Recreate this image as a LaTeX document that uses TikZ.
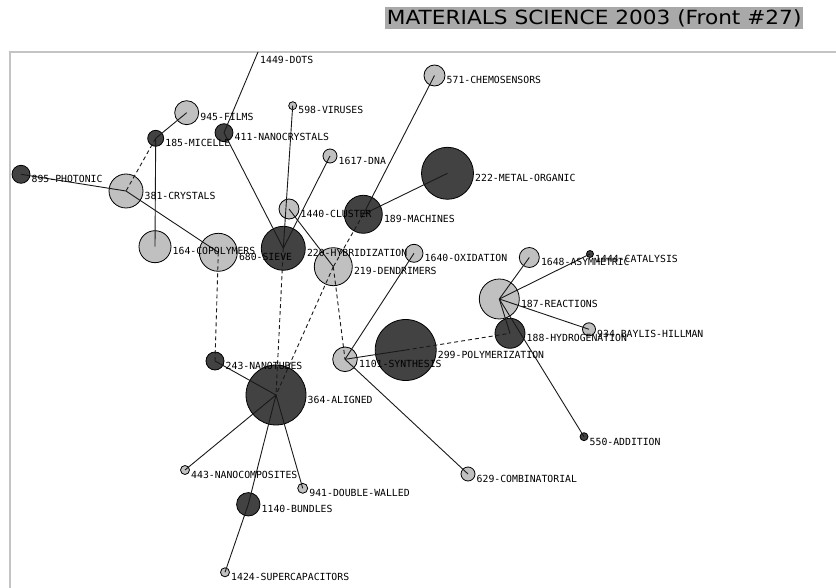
\documentclass[tikz,border=0pt]{standalone}
\usepackage{fontspec}
\newfontfamily\lblfont{DejaVu Sans Mono}
\newfontfamily\titlefont{DejaVu Sans}
\definecolor{lightn}{HTML}{C0C0C0}
\definecolor{darkn}{HTML}{424242}
\definecolor{framegray}{HTML}{C4C4C4}
\definecolor{titlegray}{HTML}{A9A9A9}
\pgfdeclarelayer{edgel}
\pgfdeclarelayer{lbll}
\pgfsetlayers{main,edgel,lbll}
\tikzset{
  gcirc/.style={circle,draw=black,line width=0.8pt,inner sep=0pt,outer sep=0pt},
  lt/.style={fill=lightn},
  dk/.style={fill=darkn},
  lbl/.style={font=\lblfont\fontsize{9.8}{10}\selectfont,anchor=base west,inner sep=0pt},
  edge/.style={draw=black!90,line width=0.9pt},
  dedge/.style={edge,dash pattern=on 4pt off 3pt}
}
\newcommand\gnode[6]{%
  \node[gcirc,#5,minimum size={2*#4}] (#1) at (#2,#3) {};
  \begin{pgfonlayer}{lbll}
    \node[lbl] (#1l) at ({#2+#4+1.5},{#3+8.3}) {#6};
  \end{pgfonlayer}
}
\begin{document}
\begin{tikzpicture}[x=1pt,y=-1pt]
\useasboundingbox (0,0) rectangle (836,588);
% frame
\draw[framegray,line width=2pt] (10,590) -- (10,52) -- (838,52);
% title
\node[fill=titlegray,inner sep=0pt,minimum width=418,minimum height=22,anchor=north west] (titlebox) at (385,7) {};
\node[inner sep=0pt] (title) at (titlebox.center) {\titlefont\fontsize{19.5}{19.5}\selectfont\scalebox{1.11}[1]{MATERIALS SCIENCE 2003 (Front \#27)}};
% nodes
\coordinate (n1449) at (258,52);
\begin{pgfonlayer}{lbll}
\node[lbl] (n1449l) at (260,63.5) {1449-DOTS};
\end{pgfonlayer}
\gnode{n945}{186.7}{112.7}{12}{lt}{945-FILMS}
\gnode{n185}{155.7}{138.3}{8}{dk}{185-MICELLE}
\gnode{n895}{21}{174.3}{9}{dk}{895-PHOTONIC}
\gnode{n381}{126}{191}{17}{lt}{381-CRYSTALS}
\gnode{n411}{224}{132.7}{9}{dk}{411-NANOCRYSTALS}
\gnode{n598}{292.7}{105.7}{4}{lt}{598-VIRUSES}
\gnode{n1617}{330}{156}{7}{lt}{1617-DNA}
\gnode{n571}{434.5}{75.5}{10.5}{lt}{571-CHEMOSENSORS}
\gnode{n222}{447.5}{173.3}{26}{dk}{222-METAL-ORGANIC}
\gnode{n1440}{289}{209}{10}{lt}{1440-CLUSTER}
\gnode{n189}{363.3}{214.3}{19}{dk}{189-MACHINES}
\gnode{n164}{155}{246.7}{16}{lt}{164-COPOLYMERS}
\gnode{n680}{218.3}{252.3}{19}{lt}{680-SIEVE}
\gnode{n220}{283.3}{248.3}{22}{dk}{220-HYBRIDIZATION}
\gnode{n219}{333.3}{266.7}{19}{lt}{219-DENDRIMERS}
\gnode{n1640}{414}{253.3}{9}{lt}{1640-OXIDATION}
\gnode{n1648}{529.3}{257.5}{10}{lt}{1648-ASYMMETRIC}
\gnode{n1444}{590}{254}{3.5}{dk}{1444-CATALYSIS}
\gnode{n187}{499.3}{299}{20}{lt}{187-REACTIONS}
\gnode{n188}{510}{333.3}{15}{dk}{188-HYDROGENATION}
\gnode{n934}{589}{329.3}{6.5}{lt}{934-BAYLIS-HILLMAN}
\gnode{n299}{405.7}{350}{30.5}{dk}{299-POLYMERIZATION}
\gnode{n1101}{345}{359.3}{12.3}{lt}{1101-SYNTHESIS}
\gnode{n243}{215}{361}{9}{dk}{243-NANOTUBES}
\gnode{n364}{276}{395}{30}{dk}{364-ALIGNED}
\gnode{n550}{584}{436.7}{4}{dk}{550-ADDITION}
\gnode{n629}{468}{474}{7}{lt}{629-COMBINATORIAL}
\gnode{n443}{185}{470}{4.5}{lt}{443-NANOCOMPOSITES}
\gnode{n941}{302.7}{488.3}{5}{lt}{941-DOUBLE-WALLED}
\gnode{n1140}{248.3}{504.3}{11.7}{dk}{1140-BUNDLES}
\gnode{n1424}{225}{572.3}{4.5}{lt}{1424-SUPERCAPACITORS}
% edges
\begin{pgfonlayer}{edgel}
\foreach \a/\b in {n1449/n411,n945/n185,n185/n164,n895/n381,n381/n680,n411/n220,
  n598/n220,n1617/n220,n1440/n219,n571/n189,n222/n189,n1640/n1101,n1101/n299,
  n1101/n629,n187/n1648,n187/n1444,n187/n934,n187/n188,n187/n550,n364/n243,
  n364/n443,n364/n941,n364/n1140,n1140/n1424}
  \draw[edge] (\a.center) -- (\b.center);
\foreach \a/\b in {n185/n381,n189/n219,n219/n364,n219/n1101,n220/n364,n680/n243,n299/n188}
  \draw[dedge] (\a.center) -- (\b.center);
\end{pgfonlayer}
\end{tikzpicture}
\end{document}
